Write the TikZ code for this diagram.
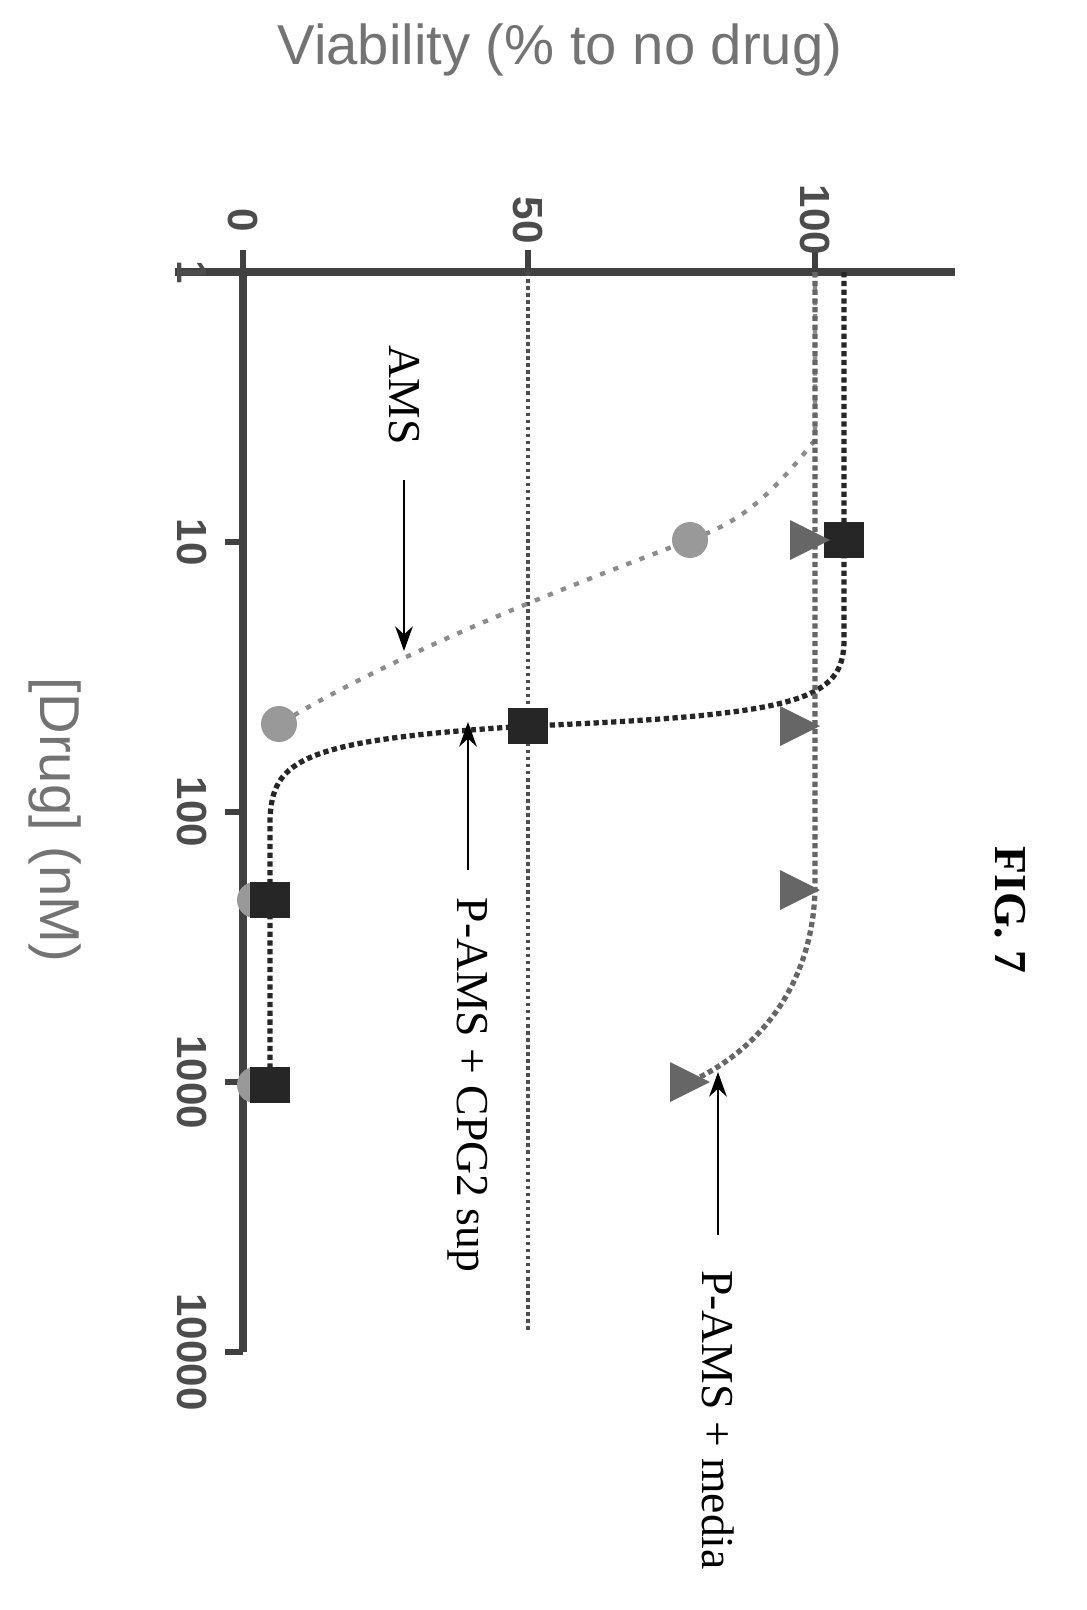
\documentclass[tikz,border=0pt]{standalone}
\usepackage{fontspec}
\setmainfont{Liberation Serif}
\newfontfamily\axisfont{Liberation Sans}
\usetikzlibrary{arrows.meta}
\tikzstyle{axis} = [line width=4pt,draw=black!75]
\tikzstyle{tlabel} = [font=\axisfont\bfseries\fontsize{24}{26}\selectfont,text=black!70,rotate=-90]
\tikzstyle{lbl} = [font=\fontsize{26}{30}\selectfont,rotate=-90]
\tikzstyle{arrow} = [line width=1.5pt,-{Stealth[length=14pt,width=10pt]}]
\tikzstyle{amsline} = [line width=2.5pt,dash pattern=on 3pt off 5pt,draw=black!45]
\tikzstyle{cpgline} = [line width=3pt,dotted,draw=black!85]
\tikzstyle{medline} = [line width=3pt,dotted,draw=black!60]
\begin{document}
\begin{tikzpicture}[x=0.02cm,y=-0.02cm]
\useasboundingbox (0,0) rectangle (1086,1610);

% titles
\node (ytitle) at (560,50) {\axisfont\fontsize{32}{38}\selectfont\color{black!55}Viability (\% to no drug)};
\node (xtitle) at (55,820) [rotate=-90] {\axisfont\fontsize{32}{38}\selectfont\color{black!55}[Drug] (nM)};
\node (fig) at (1010,910) [lbl] {\bfseries FIG. 7};

% axes
\draw[axis] (175,272) -- (955,272);
\draw[axis] (243,272) -- (243,1352);
\foreach \v/\x in {0/243,50/528,100/815}{
  \draw[line width=3pt,black!75] (\x,272) -- (\x,250);
  \node[tlabel] at (\x,220) {\v};
}
\foreach \d/\y in {1/272,10/542,100/812,1000/1082,10000/1352}{
  \draw[line width=3pt,black!75] (225,\y) -- (243,\y);
  \node[tlabel] at (192,\y) {\d};
}

% reference line
\draw[line width=2pt,dotted,black!70] (528,272) -- (528,1330);

% curves
\draw[amsline] (815,272) -- (815,440) .. controls (760,510) and (730,525) .. (690,540)
  .. controls (600,575) and (420,640) .. (279,724);
\draw[cpgline] (844,272) -- (844,640) .. controls (844,700) and (800,715) .. (528,726)
  .. controls (300,740) and (272,760) .. (270,820) -- (270,1085);
\draw[medline] (815,272) -- (815,885) .. controls (815,960) and (780,1040) .. (690,1082);

% markers
\foreach \x/\y in {690/540,279/724,255/900,255/1085}
  \fill[black!40] (\x,\y) circle (18);
\foreach \x/\y in {844/540,528/726,270/900,270/1085}
  \fill[black!85] (\x-20,\y-18) rectangle (\x+20,\y+18);
\foreach \x/\y in {810/540,800/726,800/890,690/1082}
  \fill[black!60] (\x-20,\y-20) -- (\x+20,\y) -- (\x-20,\y+20) -- cycle;

% labels
\node (ams) at (404,395) [lbl] {AMS};
\coordinate (amstail) at (404,480);
\coordinate (amstip) at (404,651);
\draw[arrow] (amstail) -- (amstip);
\node (cpg) at (468,1085) [lbl] {P-AMS + CPG2 sup};
\coordinate (cpgtail) at (468,870);
\coordinate (cpgtip) at (468,722);
\draw[arrow] (cpgtail) -- (cpgtip);
\node (med) at (718,1420) [lbl] {P-AMS + media};
\coordinate (medtail) at (718,1235);
\coordinate (medtip) at (718,1072);
\draw[arrow] (medtail) -- (medtip);
\end{tikzpicture}
\end{document}
